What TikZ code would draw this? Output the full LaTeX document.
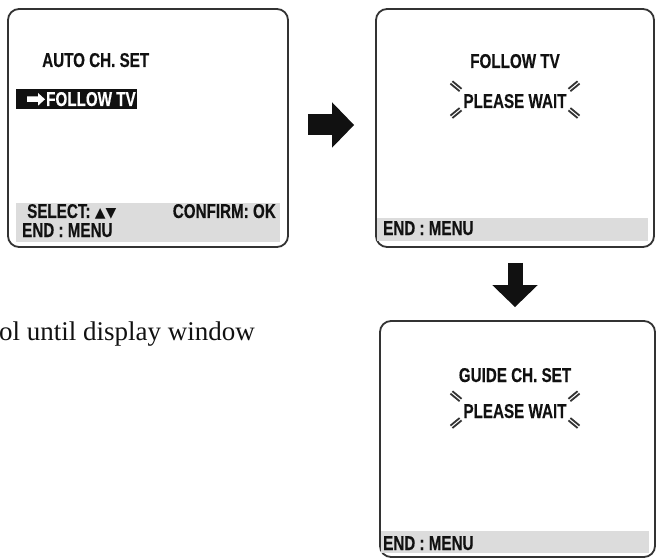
\documentclass[tikz,border=0pt]{standalone}
\usepackage{fontspec}
\setmainfont{Liberation Serif}
\newfontfamily\osdfont{Liberation Sans}[FakeStretch=0.76,BoldFeatures={FakeBold=0.3}]
\newfontfamily\symfont{DejaVu Sans}
\usetikzlibrary{arrows.meta,positioning,calc}
\definecolor{osdframe}{HTML}{333333}
\definecolor{osdbar}{HTML}{DCDCDC}
\definecolor{osdink}{HTML}{111111}

\begin{document}
\begin{tikzpicture}[x=1pt,y=-1pt,
  screen/.style={draw=osdframe,line width=1.8pt,rounded corners=11pt,inner sep=0pt},
  osd/.style={inner sep=0pt,text=osdink,font=\osdfont\bfseries\fontsize{20}{22}\selectfont},
  blockarrow/.style={line width=#1,osdink,-{Triangle[length=22pt 0 0,width=44pt 0 0]}},
  waitmark/.style={line width=1.8pt,osdframe}]
  \useasboundingbox (0,0) rectangle (659,559);
  % the three screens
  \node[screen,minimum width=280pt,minimum height=238pt] (screenA) at (148,128) {};
  \node[screen,minimum width=278pt,minimum height=238pt] (screenB) at (515,128) {};
  \node[screen,minimum width=275pt,minimum height=236pt] (screenC) at (517.5,439) {};
  % grey status bars
  \fill[osdbar] (16,203) rectangle (280,242);
  \fill[osdbar] (377,218) rectangle (648,241);
  \fill[osdbar] (381,531) rectangle (649,553);
  % screen A: menu
  \node[osd,anchor=base west] (autoTitle) at (42,67) {AUTO CH. SET};
  \fill[osdink] (16,89) rectangle (137,109);
  \fill[white] (27,96.5) -- (38,96.5) -- (38,93) -- (45,99.3) -- (38,105.7) -- (38,102) -- (27,102) -- cycle;
  \node[osd,anchor=base west,text=white] (autoFollow) at (46,106) {FOLLOW TV};
  \node[osd,anchor=base west] (autoSelect) at (27,218) {SELECT: {\symfont\fontsize{14}{14}\selectfont ▲▼}};
  \node[osd,anchor=base east] (autoConfirm) at (276,218) {CONFIRM: OK};
  \node[osd,anchor=base west] (autoEnd) at (22,237) {END : MENU};
  % screen B: follow tv
  \node[osd,anchor=base] (followTitle) at (515,68) {FOLLOW TV};
  \node[osd,anchor=base] (followWait) at (515,108) {PLEASE WAIT};
  \node[osd,anchor=base west] (followEnd) at (383,235) {END : MENU};
  % screen C: guide channel set
  \node[osd,anchor=base] (guideTitle) at (515,382) {GUIDE CH. SET};
  \node[osd,anchor=base] (guideWait) at (515,418) {PLEASE WAIT};
  \node[osd,anchor=base west] (guideEnd) at (383,550) {END : MENU};
  % blinking marks round PLEASE WAIT
  \foreach \w in {followWait,guideWait}{
    \foreach \sx/\sy in {1/1,1/-1,-1/1,-1/-1}{
      \begin{scope}[shift={($(\w.center)+(0,-1.5)$)},xscale=\sx,yscale=\sy]
        \draw[waitmark] (55.4,8.4) -- (64.6,16) (53.4,10.8) -- (62.6,18.4);
      \end{scope}
    }
  }
  % block arrows
  \draw[blockarrow=21pt,shorten <=19pt,shorten >=21pt] ([yshift=3pt]screenA.east) -- ([yshift=3pt]screenB.west);
  \draw[blockarrow=15pt,shorten <=15pt,shorten >=13pt] (screenB.south) -- (screenB.south |- screenC.north);
  % body text
  \node[anchor=base west,inner sep=0pt,text=osdink,font=\fontsize{27}{30}\selectfont] (stepText) at (-1,340) {ol until display window};
\end{tikzpicture}
\end{document}
